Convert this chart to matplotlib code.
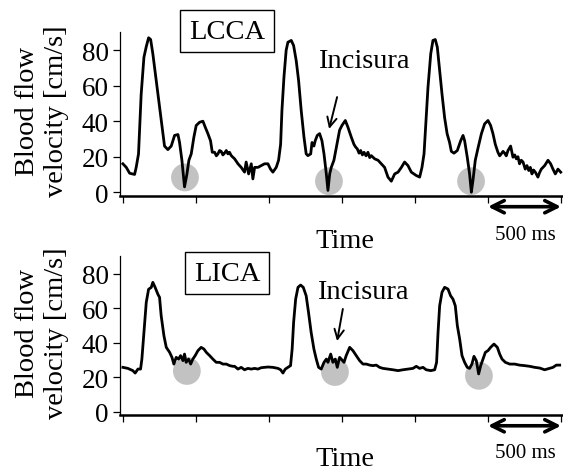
import matplotlib
matplotlib.use("Agg")
import matplotlib.pyplot as plt

plt.rcParams["font.family"] = ["Liberation Serif", "DejaVu Serif"]

# ── LCCA trace (time in ms, velocity in cm/s) ──────────────────────
lcca_t = [0, 23, 46, 80, 91, 107, 125, 144, 160, 176, 190, 205, 228, 251, 274,
          285, 308, 331, 354, 377, 388, 404, 422, 438, 452, 468, 486, 502, 525,
          548, 564, 582, 600, 612, 628, 640, 651, 662, 673, 685, 696, 708, 719,
          730, 742, 765, 788, 810, 833, 844, 861, 879, 890, 902, 925, 947, 970,
          993, 1011, 1027, 1050, 1066, 1080, 1089, 1103, 1118, 1130, 1153, 1169,
          1187, 1203, 1221, 1240, 1255, 1267, 1286, 1295, 1308, 1317, 1331, 1347,
          1363, 1377, 1393, 1404, 1416, 1427, 1445, 1461, 1484, 1500, 1523, 1541,
          1564, 1582, 1593, 1605, 1617, 1628, 1640, 1651, 1665, 1678, 1690, 1701,
          1724, 1747, 1769, 1792, 1815, 1838, 1861, 1884, 1907, 1929, 1952, 1975,
          1993, 2009, 2032, 2048, 2062, 2073, 2089, 2108, 2123, 2139, 2153, 2169,
          2185, 2203, 2220, 2237, 2249, 2267, 2290, 2313, 2329, 2340, 2358, 2374,
          2386, 2397, 2413, 2432, 2455, 2477, 2500, 2518, 2534, 2550, 2568, 2580,
          2591, 2603, 2614, 2625, 2637, 2655, 2671, 2683, 2694, 2705, 2716, 2728,
          2740, 2755, 2767, 2779, 2790, 2801, 2812, 2824, 2842, 2853, 2865, 2888,
          2911, 2929, 2945, 2961, 2979, 2998]
lcca_v = [16, 14, 10.7, 10, 14, 21.6, 55, 76, 82, 87, 86, 78, 63, 48, 33,
          26, 24, 26, 32, 32.5, 28, 18, 3, 10, 18, 21.6, 31, 37.6, 39.4,
          40, 36.6, 33, 29, 22.5, 22.5, 20.5, 21.6, 23.5, 23, 21, 22, 23.5, 21.6,
          22.5, 20.6, 18.8, 16, 14, 11.3, 17, 10.3, 16, 7.5, 14, 14, 15, 16,
          16, 13, 11.3, 14, 18, 27, 46, 65, 80, 84.5, 85.5, 82.6,
          74, 63, 46, 31, 21.6, 20.6, 21.6, 28, 26, 29, 32, 33,
          29, 21.6, 10.3, 1, 10.3, 14, 18, 25, 35, 37.6, 40.4, 36.6,
          31, 27, 25.5, 24.4, 22, 23.5, 21, 22.5, 20.5, 22.5, 19.5, 20.6,
          18.8, 18, 16, 14, 8.5, 6.2, 10.3, 11.3, 14, 17, 15, 11.3,
          10.3, 9.4, 8.5, 14, 21.6, 36.6, 59, 78, 85.5, 86, 81.7, 68.6,
          55.4, 42, 33, 28, 23, 22, 23.5, 29, 32, 29, 19.7, 10.3,
          0, 6.6, 18, 25, 33, 38.5, 40.4, 37.6, 33, 27, 22.5, 20.5,
          21.6, 23, 22, 20.5, 23.5, 26, 19.7, 21, 18.8, 20, 16, 18,
          17, 13, 15, 12.2, 14, 10.3, 12.5, 11.3, 8.5, 11, 13, 15,
          18, 16, 13, 10.3, 13, 11.3]

# ── LICA trace ─────────────────────────────────────────────────────
lica_t = [0, 34, 68, 84, 103, 121, 130, 144, 160, 176, 194, 205, 221, 240, 251,
          262, 281, 297, 320, 336, 349, 365, 381, 395, 411, 422, 433, 450, 464,
          479, 495, 514, 536, 555, 571, 594, 616, 639, 662, 685, 708, 731, 753,
          765, 788, 810, 833, 856, 879, 902, 925, 947, 970, 993, 1027, 1062, 1080,
          1096, 1112, 1130, 1148, 1159, 1169, 1183, 1199, 1217, 1235, 1255, 1271,
          1289, 1308, 1324, 1340, 1358, 1377, 1393, 1404, 1423, 1438, 1454, 1468,
          1484, 1495, 1514, 1529, 1553, 1575, 1598, 1621, 1644, 1667, 1690, 1712,
          1735, 1758, 1781, 1815, 1849, 1884, 1918, 1952, 1986, 2009, 2032, 2055,
          2077, 2108, 2135, 2148, 2158, 2169, 2185, 2203, 2226, 2244, 2260, 2276,
          2290, 2306, 2322, 2340, 2358, 2374, 2390, 2404, 2420, 2436, 2450, 2466,
          2482, 2500, 2518, 2541, 2564, 2580, 2596, 2619, 2649, 2683, 2716, 2751,
          2786, 2820, 2854, 2888, 2922, 2945, 2968, 2991]
lica_v = [25.7, 25.1, 23.8, 22.4, 24.7, 24.7, 30.5, 46, 63.4, 71, 72, 75, 72, 68, 66.3,
          55.7, 44, 37.3, 34.4, 31.5, 27.6, 31.5, 30.5, 32.5, 29.6, 33.4, 28.6, 30.5, 27.6,
          30.5, 32.5, 35.4, 37.3, 36.3, 34.4, 32.5, 30.5, 28.6, 28.6, 27.6, 27.6, 26.7, 26.3,
          26.3, 24.7, 25.7, 24.3, 25.1, 24.7, 25.1, 24.7, 25.5, 25.7, 25.9, 25.7, 25.1, 24.3,
          22.4, 24.7, 25.7, 26.7, 36.3, 51.8, 65.3, 72.1, 73.4, 72.1, 67.2, 57.6,
          46, 36.3, 30.5, 25.7, 24.7, 28.6, 30.5, 28.6, 33.4, 28.6, 30.5, 25.7,
          31.5, 30.5, 28.6, 32.5, 37.3, 35.4, 32.5, 29.6, 27.6, 27.6, 27, 26.7,
          27, 25.7, 25.1, 24.7, 24.3, 23.8, 24.3, 24.7, 25.1, 26.3, 25.1, 25.7,
          24.3, 23.8, 24.3, 28.6, 46, 61.4, 69.2, 72.1, 71.1, 67.2, 65.3, 61.4,
          49.9, 42.1, 32.5, 28.6, 25.7, 25.1, 27.6, 32.1, 29.6, 21.9, 26.7, 30.5,
          34.4, 35.4, 37.3, 39.2, 37.3, 33.4, 30.5, 28.6, 27.6, 27.6, 27, 26.7,
          26.3, 25.7, 25.3, 24.3, 25.1, 25.7, 27, 27]

# incisura markers
lcca_notch_t = [425, 1411, 2384]
lcca_notch_v = [8.3, 6.2, 6.2]
lica_notch_t = [438, 1452, 2438]
lica_notch_v = [23.6, 23, 20.8]

x_ticks = [0, 500, 1000, 1500, 2000, 2500, 3000]
y_ticks = [0, 20, 40, 60, 80]

fig = plt.figure(figsize=(5.63, 4.77), dpi=100)
ax_top = fig.add_axes([0.2131, 0.5875, 0.787, 0.3424])
ax_bot = fig.add_axes([0.2131, 0.1276, 0.787, 0.3327])


def style_panel(ax, t, v, nt, nv, name, name_y, inc_xy, arr_start, arr_end):
    ax.scatter(nt, nv, s=400, color="#c2c2c2", edgecolors="none", zorder=1)
    ax.plot(t, v, color="black", lw=2.0, zorder=2)

    ax.set_xlim(-20, 3014)
    ax.set_ylim(-2, 90)
    ax.set_xticks(x_ticks)
    ax.set_xticklabels([])
    ax.set_yticks(y_ticks)
    ax.tick_params(axis="y", labelsize=19.5, length=5, width=0.9, pad=3)
    ax.tick_params(axis="x", length=5, width=0.9, direction="out")
    for side in ("top", "right"):
        ax.spines[side].set_visible(False)
    ax.spines["bottom"].set_linewidth(1.8)
    ax.spines["left"].set_linewidth(0.9)

    ax.text(0.2415, name_y, name, transform=ax.transAxes, fontsize=20.5,
            ha="center", va="center",
            bbox=dict(boxstyle="square,pad=0.3", facecolor="white",
                      edgecolor="black", lw=1.0))

    ax.text(inc_xy[0], inc_xy[1], "Incisura", transform=ax.transAxes,
            fontsize=20.5, ha="center", va="center")
    ax.annotate("", xy=arr_end, xytext=arr_start, xycoords="axes fraction",
                textcoords="axes fraction",
                arrowprops=dict(arrowstyle="->", lw=1.4, color="black",
                                mutation_scale=17, shrinkA=0, shrinkB=0))

    # 500 ms scale bar
    ax.annotate("", xy=(3000, -0.067), xytext=(2500, -0.067),
                xycoords=("data", "axes fraction"),
                textcoords=("data", "axes fraction"),
                arrowprops=dict(arrowstyle="<->", lw=2.6, color="black",
                                mutation_scale=22, shrinkA=0, shrinkB=0),
                annotation_clip=False)
    ax.text(2753, -0.235, "500 ms", transform=ax.get_xaxis_transform(),
            fontsize=15, ha="center", va="center")
    ax.text(0.508, -0.272, "Time", transform=ax.transAxes, fontsize=20.5,
            ha="center", va="center")


style_panel(ax_top, lcca_t, lcca_v, lcca_notch_t, lcca_notch_v, "LCCA", 1.006,
            (0.551, 0.829), (0.490, 0.604), (0.472, 0.409))
style_panel(ax_bot, lica_t, lica_v, lica_notch_t, lica_notch_v, "LICA", 0.895,
            (0.549, 0.782), (0.503, 0.669), (0.490, 0.467))

for y in (0.767, 0.302):
    fig.text(0.0746, y, "Blood flow\nvelocity [cm/s]", rotation=90,
             fontsize=20.5, ha="center", va="center", multialignment="center")

fig.savefig("out.png", dpi=100, facecolor="white")
